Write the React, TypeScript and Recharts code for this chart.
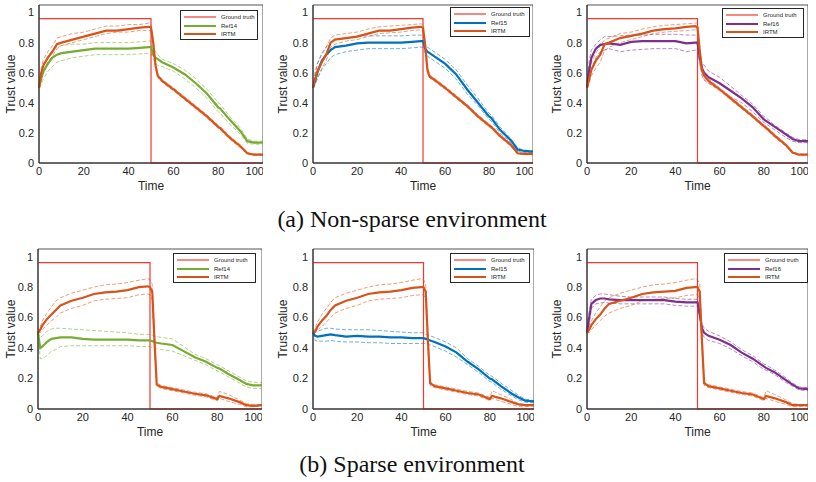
import React from "react";
import {
  LineChart,
  Line,
  XAxis,
  YAxis,
  ReferenceArea,
} from "recharts";

// shared time grid (x values)
const TIME = [0, 1, 2, 4, 6, 8, 10, 15, 20, 25, 30, 35, 40, 45, 49, 50, 51, 52, 53, 55, 60, 65, 70, 75, 80, 81, 85, 90, 93, 96, 100];

const GT_TIME = [0, 50, 50, 100];
const GT_VALUE = [0.96, 0.96, 0, 0];

const X_TICKS = [0, 20, 40, 60, 80, 100];
const Y_TICKS = [0, 0.2, 0.4, 0.6, 0.8, 1];

// (a) non-sparse
const a1Irtm = [.50, .60, .65, .70, .74, .79, .80, .82, .84, .86, .88, .88, .89, .90, .905, .90, .80, .65, .58, .545, .49, .43, .37, .31, .24, .23, .17, .11, .065, .055, .055];
const a1IrtmHi = [.50, .63, .69, .74, .78, .83, .84, .86, .87, .89, .91, .91, .92, .92, .93, .92, .82, .67, .59, .555, .50, .44, .38, .32, .25, .24, .18, .12, .07, .06, .06];
const a1IrtmLo = [.50, .57, .62, .67, .71, .76, .78, .80, .82, .84, .86, .87, .87, .88, .88, .88, .78, .63, .57, .535, .48, .42, .36, .30, .23, .22, .16, .10, .06, .05, .05];
const a1Ref = [.50, .56, .61, .66, .70, .72, .73, .74, .75, .76, .76, .76, .76, .765, .77, .77, .72, .70, .69, .67, .635, .59, .53, .46, .37, .36, .29, .21, .145, .135, .135];
const a1RefHi = [.50, .60, .66, .71, .75, .77, .78, .79, .79, .80, .80, .80, .80, .805, .81, .81, .76, .74, .72, .69, .66, .62, .56, .49, .40, .39, .31, .23, .16, .145, .145];
const a1RefLo = [.50, .52, .56, .61, .64, .67, .68, .70, .71, .72, .72, .72, .72, .725, .73, .73, .69, .66, .65, .64, .61, .56, .50, .43, .34, .33, .26, .19, .13, .125, .125];

const a2Irtm = [.50, .56, .61, .67, .72, .80, .82, .83, .84, .86, .88, .88, .89, .90, .905, .90, .78, .62, .575, .555, .50, .44, .38, .31, .25, .24, .18, .12, .065, .06, .06];
const a2IrtmHi = [.50, .60, .66, .72, .77, .83, .85, .86, .87, .89, .905, .91, .915, .92, .925, .92, .80, .64, .585, .565, .51, .45, .39, .32, .26, .25, .19, .13, .075, .065, .065];
const a2IrtmLo = [.50, .53, .57, .63, .68, .77, .79, .81, .82, .84, .86, .865, .87, .88, .885, .88, .76, .60, .565, .545, .49, .43, .37, .30, .24, .23, .17, .11, .06, .055, .055];
const a2Ref = [.50, .55, .60, .68, .72, .75, .77, .78, .795, .80, .80, .80, .80, .805, .81, .81, .76, .74, .73, .71, .66, .59, .49, .40, .31, .30, .22, .15, .09, .08, .075];
const a2RefHi = [.50, .60, .66, .73, .77, .80, .82, .83, .84, .845, .845, .845, .845, .85, .85, .85, .79, .77, .76, .74, .69, .62, .52, .43, .33, .32, .24, .16, .10, .085, .08];
const a2RefLo = [.50, .52, .56, .62, .66, .70, .72, .74, .75, .76, .76, .76, .76, .765, .77, .77, .73, .71, .70, .68, .63, .56, .46, .38, .29, .28, .20, .135, .08, .07, .07];

const a3Irtm = [.50, .56, .62, .68, .72, .79, .80, .83, .845, .86, .88, .89, .895, .905, .91, .90, .75, .62, .58, .545, .49, .43, .37, .31, .245, .235, .18, .12, .07, .055, .055];
const a3IrtmHi = [.50, .60, .67, .73, .78, .82, .83, .86, .87, .89, .905, .915, .92, .925, .93, .93, .77, .64, .60, .56, .50, .44, .38, .32, .255, .245, .19, .13, .075, .06, .06];
const a3IrtmLo = [.50, .53, .58, .63, .67, .75, .77, .80, .82, .84, .86, .87, .875, .88, .885, .88, .73, .60, .56, .53, .48, .42, .36, .30, .235, .225, .17, .11, .065, .05, .05];
const a3Ref = [.50, .62, .70, .76, .785, .79, .795, .785, .805, .81, .81, .81, .81, .795, .80, .80, .70, .63, .60, .57, .53, .48, .43, .37, .29, .28, .24, .19, .16, .145, .145];
const a3RefHi = [.50, .68, .75, .79, .82, .84, .84, .845, .85, .85, .855, .855, .855, .85, .85, .85, .73, .67, .65, .61, .57, .51, .45, .39, .31, .30, .25, .20, .17, .155, .155];
const a3RefLo = [.50, .55, .62, .70, .74, .75, .76, .74, .75, .755, .76, .76, .76, .74, .75, .75, .66, .58, .55, .53, .49, .44, .40, .34, .27, .26, .22, .17, .145, .135, .135];

// (b) sparse
const b1Irtm = [.50, .52, .55, .59, .62, .65, .68, .71, .73, .755, .765, .77, .78, .80, .805, .80, .77, .45, .16, .145, .13, .115, .10, .09, .065, .085, .07, .045, .025, .02, .025];
const b1IrtmHi = [.50, .54, .58, .63, .67, .71, .73, .76, .78, .80, .815, .82, .83, .845, .855, .85, .82, .50, .17, .155, .14, .125, .11, .10, .075, .115, .095, .06, .035, .03, .03];
const b1IrtmLo = [.50, .50, .52, .55, .58, .60, .63, .66, .68, .71, .72, .725, .73, .75, .755, .75, .72, .40, .15, .135, .12, .105, .09, .08, .055, .07, .05, .03, .015, .015, .02];
const b1Ref = [.50, .40, .41, .44, .46, .465, .47, .47, .46, .455, .455, .455, .455, .45, .45, .45, .445, .44, .435, .43, .42, .38, .34, .31, .27, .265, .23, .19, .165, .155, .155];
const b1RefHi = [.50, .47, .48, .51, .525, .53, .53, .525, .52, .515, .51, .505, .50, .49, .49, .49, .485, .48, .475, .47, .46, .41, .36, .33, .29, .285, .25, .21, .185, .175, .175];
const b1RefLo = [.50, .33, .33, .35, .38, .39, .41, .415, .415, .415, .415, .415, .415, .41, .41, .41, .405, .40, .395, .39, .38, .35, .32, .29, .25, .245, .21, .17, .145, .135, .135];

const b2Irtm = [.50, .51, .54, .58, .61, .65, .68, .71, .73, .755, .765, .77, .78, .795, .80, .80, .77, .45, .17, .15, .135, .12, .105, .095, .065, .085, .07, .045, .03, .025, .025];
const b2IrtmHi = [.50, .53, .57, .62, .66, .70, .73, .76, .78, .80, .815, .82, .83, .845, .855, .85, .82, .50, .18, .16, .145, .13, .115, .105, .075, .12, .095, .06, .035, .03, .03];
const b2IrtmLo = [.50, .50, .52, .54, .57, .60, .63, .66, .68, .71, .72, .725, .73, .745, .75, .75, .72, .40, .155, .14, .125, .11, .095, .085, .055, .07, .05, .03, .015, .015, .02];
const b2Ref = [.50, .48, .475, .48, .485, .49, .485, .475, .48, .475, .475, .47, .47, .465, .465, .465, .46, .455, .45, .44, .41, .37, .31, .26, .20, .195, .15, .10, .075, .055, .05];
const b2RefHi = [.50, .50, .51, .52, .53, .53, .525, .52, .52, .52, .515, .51, .505, .50, .50, .50, .49, .485, .48, .47, .44, .40, .33, .28, .22, .215, .17, .12, .09, .065, .055];
const b2RefLo = [.50, .45, .445, .445, .445, .45, .445, .44, .44, .435, .435, .43, .43, .43, .43, .43, .43, .425, .42, .41, .38, .34, .29, .24, .18, .175, .13, .085, .06, .045, .04];

const b3Irtm = [.50, .52, .55, .59, .62, .66, .69, .71, .73, .755, .765, .77, .775, .795, .80, .80, .77, .45, .17, .15, .135, .12, .105, .095, .065, .085, .07, .045, .025, .025, .025];
const b3IrtmHi = [.50, .54, .58, .63, .67, .71, .73, .76, .78, .80, .815, .82, .83, .845, .855, .85, .82, .50, .18, .16, .145, .13, .115, .105, .075, .12, .095, .06, .035, .03, .03];
const b3IrtmLo = [.50, .50, .52, .55, .58, .61, .63, .66, .68, .71, .72, .725, .73, .745, .75, .75, .72, .40, .155, .14, .125, .11, .095, .085, .055, .07, .05, .03, .015, .015, .02];
const b3Ref = [.50, .60, .69, .715, .725, .725, .72, .715, .715, .715, .715, .715, .705, .70, .70, .70, .62, .53, .50, .48, .455, .42, .37, .33, .28, .27, .24, .19, .16, .135, .13];
const b3RefHi = [.50, .64, .72, .745, .755, .755, .75, .74, .735, .735, .735, .735, .725, .72, .72, .72, .64, .56, .53, .51, .48, .44, .39, .35, .295, .29, .255, .205, .17, .145, .14];
const b3RefLo = [.50, .56, .66, .69, .695, .70, .695, .69, .69, .69, .69, .69, .68, .675, .675, .675, .60, .50, .47, .45, .43, .395, .35, .31, .26, .255, .225, .175, .15, .125, .12];

const GT_COLOR = "#f03a2e";
const IRTM_COLOR = "#d95319";
const AXIS_COLOR = "#262626";
const SANS = "'Liberation Sans', Arial, sans-serif";

const toPoints = (xs: number[], ys: number[]) => xs.map((t, i) => ({ t, v: ys[i] }));
const gtData = toPoints(GT_TIME, GT_VALUE);

type Panel = {
  left: number;
  top: number;
  width: number;
  height: number;
  yAxisWidth: number;
  refName: string;
  refColor: string;
  ref: number[];
  refHi: number[];
  refLo: number[];
  irtm: number[];
  irtmHi: number[];
  irtmLo: number[];
  legend: { left: number; top: number; width: number };
};

const panels: Panel[] = [
  { left: 0, top: 0, width: 263, height: 200, yAxisWidth: 39, refName: "Ref14", refColor: "#77ac30", ref: a1Ref, refHi: a1RefHi, refLo: a1RefLo, irtm: a1Irtm, irtmHi: a1IrtmHi, irtmLo: a1IrtmLo, legend: { left: 180, top: 10, width: 78 } },
  { left: 272, top: 0, width: 261, height: 200, yAxisWidth: 41, refName: "Ref15", refColor: "#0072bd", ref: a2Ref, refHi: a2RefHi, refLo: a2RefLo, irtm: a2Irtm, irtmHi: a2IrtmHi, irtmLo: a2IrtmLo, legend: { left: 450, top: 7, width: 80 } },
  { left: 546, top: 0, width: 262, height: 200, yAxisWidth: 41, refName: "Ref16", refColor: "#7e2f8e", ref: a3Ref, refHi: a3RefHi, refLo: a3RefLo, irtm: a3Irtm, irtmHi: a3IrtmHi, irtmLo: a3IrtmLo, legend: { left: 722, top: 8, width: 82 } },
  { left: 0, top: 244, width: 262, height: 202, yAxisWidth: 38, refName: "Ref14", refColor: "#77ac30", ref: b1Ref, refHi: b1RefHi, refLo: b1RefLo, irtm: b1Irtm, irtmHi: b1IrtmHi, irtmLo: b1IrtmLo, legend: { left: 173, top: 253, width: 83 } },
  { left: 272, top: 244, width: 262, height: 202, yAxisWidth: 41, refName: "Ref15", refColor: "#0072bd", ref: b2Ref, refHi: b2RefHi, refLo: b2RefLo, irtm: b2Irtm, irtmHi: b2IrtmHi, irtmLo: b2IrtmLo, legend: { left: 450, top: 253, width: 80 } },
  { left: 546, top: 244, width: 262, height: 202, yAxisWidth: 41, refName: "Ref16", refColor: "#7e2f8e", ref: b3Ref, refHi: b3RefHi, refLo: b3RefLo, irtm: b3Irtm, irtmHi: b3IrtmHi, irtmLo: b3IrtmLo, legend: { left: 724, top: 253, width: 84 } },
];

function LegendBox({ panel }: { panel: Panel }) {
  const rows = [
    { name: "Ground truth", color: GT_COLOR, width: 1.2 },
    { name: panel.refName, color: panel.refColor, width: 2 },
    { name: "IRTM", color: IRTM_COLOR, width: 2 },
  ];
  return (
    <div
      style={{
        position: "absolute",
        left: panel.legend.left,
        top: panel.legend.top,
        width: panel.legend.width,
        height: 30,
        boxSizing: "border-box",
        border: `1px solid ${AXIS_COLOR}`,
        background: "#fff",
        padding: "2px 0 0 3px",
        fontFamily: SANS,
        fontSize: 6,
        color: AXIS_COLOR,
        lineHeight: "8.5px",
        whiteSpace: "nowrap",
      }}
    >
      {rows.map((r) => (
        <div key={r.name} style={{ display: "flex", alignItems: "center", height: 8.5 }}>
          <svg width={32} height={6} style={{ marginRight: 5, flexShrink: 0 }}>
            <line x1={0} y1={3} x2={32} y2={3} stroke={r.color} strokeWidth={r.width} />
          </svg>
          <span>{r.name}</span>
        </div>
      ))}
    </div>
  );
}

function TrialChart({ panel }: { panel: Panel }) {
  const dashed = { strokeDasharray: "4 2", strokeWidth: 0.8, strokeOpacity: 0.7 };
  const tickStyle = { fontSize: 11, fill: AXIS_COLOR, fontFamily: SANS };
  return (
    <div style={{ position: "absolute", left: panel.left, top: panel.top }}>
      <LineChart
        width={panel.width}
        height={panel.height}
        margin={{ top: 5, right: 0, bottom: 0, left: 0 }}
      >
        <XAxis
          dataKey="t"
          type="number"
          domain={[0, 100]}
          ticks={X_TICKS}
          height={37}
          tick={tickStyle}
          tickLine={false}
          tickSize={2}
          tickMargin={2}
          axisLine={{ stroke: AXIS_COLOR }}
          label={({ viewBox }: any) => (
            <text
              x={viewBox.x + viewBox.width / 2}
              y={viewBox.y + 24}
              textAnchor="middle"
              dominantBaseline="middle"
              fontSize={12}
              fontFamily={SANS}
              fill={AXIS_COLOR}
            >
              Time
            </text>
          )}
        />
        <YAxis
          type="number"
          domain={[0, 1.05]}
          ticks={Y_TICKS}
          width={panel.yAxisWidth}
          tick={tickStyle}
          tickLine={false}
          tickSize={3}
          tickMargin={2}
          axisLine={{ stroke: AXIS_COLOR }}
          tickFormatter={(v) => String(v)}
          label={({ viewBox }: any) => {
            const cx = viewBox.x + 12;
            const cy = viewBox.y + viewBox.height / 2;
            return (
              <text
                x={cx}
                y={cy}
                transform={`rotate(-90 ${cx} ${cy})`}
                textAnchor="middle"
                dominantBaseline="middle"
                fontSize={12}
                fontFamily={SANS}
                fill={AXIS_COLOR}
              >
                Trust value
              </text>
            );
          }}
        />
        <ReferenceArea x1={0} x2={100} y1={0} y2={1.05} fill="none" stroke={AXIS_COLOR} strokeWidth={0.8} />
        <Line data={toPoints(TIME, panel.refHi)} dataKey="v" stroke={panel.refColor} dot={false} type="linear" isAnimationActive={false} {...dashed} />
        <Line data={toPoints(TIME, panel.refLo)} dataKey="v" stroke={panel.refColor} dot={false} type="linear" isAnimationActive={false} {...dashed} />
        <Line data={toPoints(TIME, panel.irtmHi)} dataKey="v" stroke={IRTM_COLOR} dot={false} type="linear" isAnimationActive={false} {...dashed} />
        <Line data={toPoints(TIME, panel.irtmLo)} dataKey="v" stroke={IRTM_COLOR} dot={false} type="linear" isAnimationActive={false} {...dashed} />
        <Line data={gtData} dataKey="v" stroke={GT_COLOR} strokeWidth={1.2} dot={false} type="linear" isAnimationActive={false} />
        <Line data={toPoints(TIME, panel.ref)} dataKey="v" stroke={panel.refColor} strokeWidth={2.2} dot={false} type="linear" isAnimationActive={false} />
        <Line data={toPoints(TIME, panel.irtm)} dataKey="v" stroke={IRTM_COLOR} strokeWidth={2.2} dot={false} type="linear" isAnimationActive={false} />
      </LineChart>
    </div>
  );
}

const captionStyle: React.CSSProperties = {
  position: "absolute",
  left: 4,
  width: 816,
  textAlign: "center",
  fontFamily: "'Liberation Serif', 'Times New Roman', serif",
  fontSize: 24,
  lineHeight: "26px",
  color: "#111",
};

export default function App() {
  return (
    <div style={{ position: "absolute", left: 0, top: 0, width: 816, height: 482, background: "#fff" }}>
      {panels.map((p, i) => (
        <TrialChart key={i} panel={p} />
      ))}
      {panels.map((p, i) => (
        <LegendBox key={`l${i}`} panel={p} />
      ))}
      <div style={{ ...captionStyle, top: 206 }}>(a) Non-sparse environment</div>
      <div style={{ ...captionStyle, top: 451 }}>(b) Sparse environment</div>
    </div>
  );
}
